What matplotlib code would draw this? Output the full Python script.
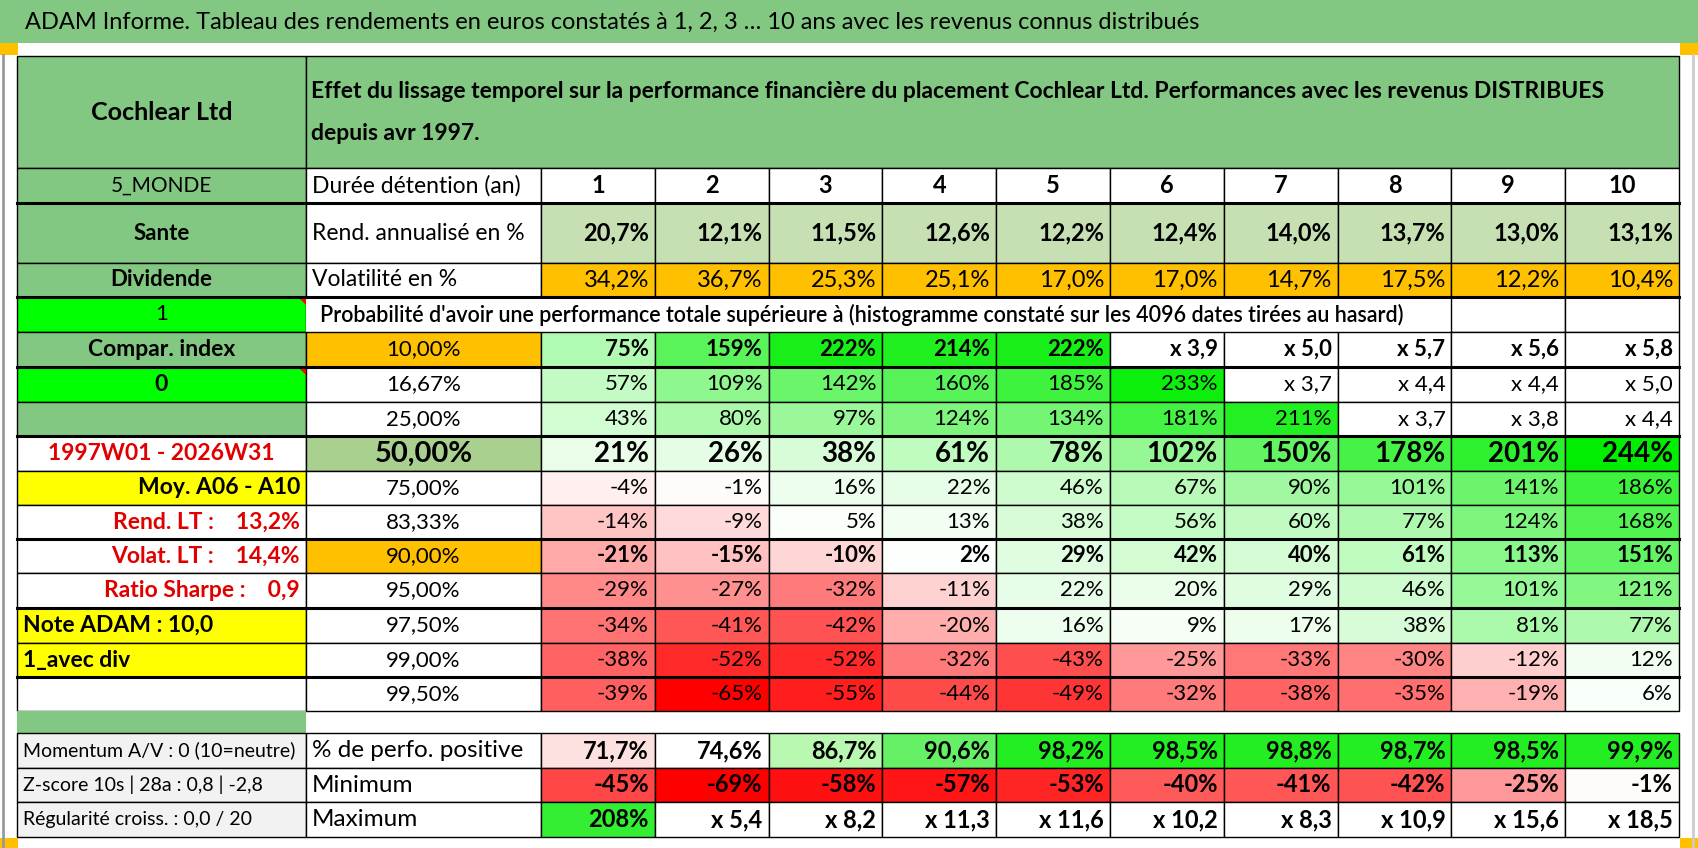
import matplotlib
matplotlib.use("Agg")
import matplotlib.pyplot as plt
from matplotlib.patches import Rectangle, Polygon

plt.rcParams['font.family'] = ['Lato', 'DejaVu Sans']

W, H = 1698, 848
GREEN = "#82c882"
LGREEN = "#c6e0b4"
ORANGE = "#ffc000"
YELLOW = "#ffff00"
GREY = "#f2f2f2"

# column and row edges (pixels)
xs = [17, 306, 541] + [541 + 113.8 * i for i in range(1, 11)]
ys = {"head": (56, 168), "monde": (168, 203), "sante": (203, 263), "div": (263, 297),
      "prob": (297, 332)}
pct_rows_y = [332, 367, 402, 436, 471, 505, 539, 573, 608, 643, 677, 711]
bottom_y = [733, 768, 802, 837]

pct_rows = [
    ("10,00%", ["75%", "159%", "222%", "214%", "222%", "x 3,9", "x 5,0", "x 5,7", "x 5,6", "x 5,8"]),
    ("16,67%", ["57%", "109%", "142%", "160%", "185%", "233%", "x 3,7", "x 4,4", "x 4,4", "x 5,0"]),
    ("25,00%", ["43%", "80%", "97%", "124%", "134%", "181%", "211%", "x 3,7", "x 3,8", "x 4,4"]),
    ("50,00%", ["21%", "26%", "38%", "61%", "78%", "102%", "150%", "178%", "201%", "244%"]),
    ("75,00%", ["-4%", "-1%", "16%", "22%", "46%", "67%", "90%", "101%", "141%", "186%"]),
    ("83,33%", ["-14%", "-9%", "5%", "13%", "38%", "56%", "60%", "77%", "124%", "168%"]),
    ("90,00%", ["-21%", "-15%", "-10%", "2%", "29%", "42%", "40%", "61%", "113%", "151%"]),
    ("95,00%", ["-29%", "-27%", "-32%", "-11%", "22%", "20%", "29%", "46%", "101%", "121%"]),
    ("97,50%", ["-34%", "-41%", "-42%", "-20%", "16%", "9%", "17%", "38%", "81%", "77%"]),
    ("99,00%", ["-38%", "-52%", "-52%", "-32%", "-43%", "-25%", "-33%", "-30%", "-12%", "12%"]),
    ("99,50%", ["-39%", "-65%", "-55%", "-44%", "-49%", "-32%", "-38%", "-35%", "-19%", "6%"]),
]
# left column for the percentile rows: (text, bg, color, align)
left_cells = [
    ("Compar. index", GREEN, "black", "center"),
    ("0", "#00ff00", "black", "center"),
    ("", GREEN, "black", "center"),
    ("1997W01 - 2026W31", "white", "#e00000", "center"),
    ("Moy. A06 - A10", YELLOW, "black", "right"),
    ("Rend. LT :    13,2%", "white", "#e00000", "right"),
    ("Volat. LT :    14,4%", "white", "#e00000", "right"),
    ("Ratio Sharpe :    0,9", "white", "#e00000", "right"),
    ("Note ADAM : 10,0", YELLOW, "black", "left"),
    ("1_avec div", YELLOW, "black", "left"),
    ("", "white", "black", "center"),
]
rend = ["20,7%", "12,1%", "11,5%", "12,6%", "12,2%", "12,4%", "14,0%", "13,7%", "13,0%", "13,1%"]
vol = ["34,2%", "36,7%", "25,3%", "25,1%", "17,0%", "17,0%", "14,7%", "17,5%", "12,2%", "10,4%"]
positive = ["71,7%", "74,6%", "86,7%", "90,6%", "98,2%", "98,5%", "98,8%", "98,7%", "98,5%", "99,9%"]
pos_colors = ["#fde0e0", "white", "#b8f8b0", "#66f066", "#22ee22", "#22ee22", "#22ee22", "#22ee22", "#22ee22", "#22ee22"]
minimum = ["-45%", "-69%", "-58%", "-57%", "-53%", "-40%", "-41%", "-42%", "-25%", "-1%"]
maximum = ["208%", "x 5,4", "x 8,2", "x 11,3", "x 11,6", "x 10,2", "x 8,3", "x 10,9", "x 15,6", "x 18,5"]


def cell_color(txt):
    if txt.startswith("x"):
        return "white"
    v = float(txt.replace("%", "").replace(",", "."))
    if v >= 0:
        t = min(v / 245.0, 1.0)
        return (1 - t, 1 - 0.07 * t, 1 - t)
    t = min(-v / 62.0, 1.0)
    return (1, 1 - t, 1 - t)


fig = plt.figure(figsize=(W / 100, H / 100), dpi=100)
ax = fig.add_axes([0, 0, 1, 1])
ax.set_xlim(0, W)
ax.set_ylim(H, 0)
ax.axis("off")


def box(x0, x1, y0, y1, fc, lw=1.0):
    ax.add_patch(Rectangle((x0, y0), x1 - x0, y1 - y0, fc=fc, ec="black", lw=lw))


def txt(x0, x1, y0, y1, s, align="center", size=14, weight="normal", color="black"):
    pad = 6
    x = {"center": (x0 + x1) / 2, "left": x0 + pad, "right": x1 - pad}[align]
    ax.text(x, (y0 + y1) / 2, s, ha=align, va="center", fontsize=size, fontweight=weight, color=color)


# title bar
ax.add_patch(Rectangle((0, 0), W, 43, fc=GREEN, ec="none"))
ax.text(25, 22, "ADAM Informe. Tableau des rendements en euros constatés à 1, 2, 3 … 10 ans avec les revenus connus distribués",
        ha="left", va="center", fontsize=17, color="black")
for xo in (0, 1680):
    ax.add_patch(Rectangle((xo, 43), 18, 12, fc=ORANGE, ec="none"))
    ax.add_patch(Rectangle((xo, 838), 18, 10, fc=ORANGE, ec="none"))
ax.plot([3, 3], [55, 848], color="#999999", lw=2)
ax.plot([1693, 1693], [55, 848], color="#cccccc", lw=2)

# header
y0, y1 = ys["head"]
box(xs[0], xs[1], y0, y1, GREEN)
box(xs[1], xs[-1], y0, y1, GREEN)
txt(xs[0], xs[1], y0, y1, "Cochlear Ltd", size=18, weight="bold")
ax.text(xs[1] + 5, y0 + 35, "Effet du lissage temporel sur la performance financière du placement Cochlear Ltd. Performances avec les revenus DISTRIBUES",
        ha="left", va="center", fontsize=16.5, fontweight="bold")
ax.text(xs[1] + 5, y0 + 77, "depuis avr 1997.", ha="left", va="center", fontsize=16.5, fontweight="bold")

# info rows
info = [("monde", "5_MONDE", "Durée détention (an)", [str(i) for i in range(1, 11)], ["white"] * 10, "bold", "center"),
        ("sante", "Sante", "Rend. annualisé en %", rend, [LGREEN] * 10, "bold", "right"),
        ("div", "Dividende", "Volatilité en %", vol, [ORANGE] * 10, "normal", "right")]
for key, lab0, lab1, vals, cols, wt, al in info:
    y0, y1 = ys[key]
    box(xs[0], xs[1], y0, y1, GREEN)
    txt(xs[0], xs[1], y0, y1, lab0, size=16 if key != "monde" else 15, weight="bold" if key != "monde" else "normal")
    box(xs[1], xs[2], y0, y1, "white")
    txt(xs[1], xs[2], y0, y1, lab1, align="left", size=16.5)
    for i, (v, c) in enumerate(zip(vals, cols)):
        box(xs[2 + i], xs[3 + i], y0, y1, c)
        txt(xs[2 + i], xs[3 + i], y0, y1, v, align=al, size=17, weight=wt)

# probability line
y0, y1 = ys["prob"]
box(xs[0], xs[1], y0, y1, "#00ff00")
txt(xs[0], xs[1], y0, y1, "1", size=16)
ax.add_patch(Rectangle((xs[1], y0), xs[10] - xs[1], y1 - y0, fc="white", ec="none"))
box(xs[10], xs[11], y0, y1, "white")
box(xs[11], xs[12], y0, y1, "white")
ax.text(xs[1] + 14, (y0 + y1) / 2, "Probabilité d'avoir une performance totale supérieure à (histogramme constaté sur les 4096 dates tirées au hasard)",
        ha="left", va="center", fontsize=15.5, fontweight="semibold")

# percentile rows
for r, ((p, vals), (lt, lbg, lcol, lal)) in enumerate(zip(pct_rows, left_cells)):
    y0, y1 = pct_rows_y[r], pct_rows_y[r + 1]
    bold = p in ("10,00%", "50,00%", "90,00%")
    box(xs[0], xs[1], y0, y1, lbg)
    txt(xs[0], xs[1], y0, y1, lt, align=lal, size=16.5, weight="bold" if lt else "normal", color=lcol)
    pbg = {"10,00%": ORANGE, "50,00%": "#a9d08e", "90,00%": ORANGE}.get(p, "white")
    box(xs[1], xs[2], y0, y1, pbg)
    txt(xs[1], xs[2], y0, y1, p, size=21 if p == "50,00%" else 16, weight="bold" if p == "50,00%" else "normal")
    for i, v in enumerate(vals):
        box(xs[2 + i], xs[3 + i], y0, y1, cell_color(v))
        txt(xs[2 + i], xs[3 + i], y0, y1, v, align="right",
            size=20 if p == "50,00%" else 16, weight="bold" if bold else "normal")

# red corner marks
for yy in (ys["prob"][0], pct_rows_y[1]):
    ax.add_patch(Polygon([[xs[1] - 8, yy], [xs[1], yy], [xs[1], yy + 8]], fc="red", ec="none"))

# thick separators
for yy in (ys["monde"][1], ys["div"][1], 367, 436, 539, 608, 677):
    ax.plot([xs[0], xs[-1]], [yy, yy], color="black", lw=2.2)

# spacer row
ax.add_patch(Rectangle((xs[0], 711), xs[1] - xs[0], 22, fc=GREEN, ec="none"))

# bottom rows
bottom = [("Momentum A/V : 0 (10=neutre)", "% de perfo. positive", positive, pos_colors),
          ("Z-score 10s | 28a : 0,8 | -2,8", "Minimum", minimum, [cell_color(v) for v in minimum]),
          ("Régularité croiss. : 0,0 / 20", "Maximum", maximum, ["#33ee33"] + ["white"] * 9)]
for r, (l0, l1, vals, cols) in enumerate(bottom):
    y0, y1 = bottom_y[r], bottom_y[r + 1]
    box(xs[0], xs[1], y0, y1, GREY)
    txt(xs[0], xs[1], y0, y1, l0, align="left", size=14)
    box(xs[1], xs[2], y0, y1, "white")
    txt(xs[1], xs[2], y0, y1, l1, align="left", size=17.5)
    for i, (v, c) in enumerate(zip(vals, cols)):
        box(xs[2 + i], xs[3 + i], y0, y1, c)
        txt(xs[2 + i], xs[3 + i], y0, y1, v, align="right", size=17, weight="bold")

fig.savefig("out.png", dpi=100)
